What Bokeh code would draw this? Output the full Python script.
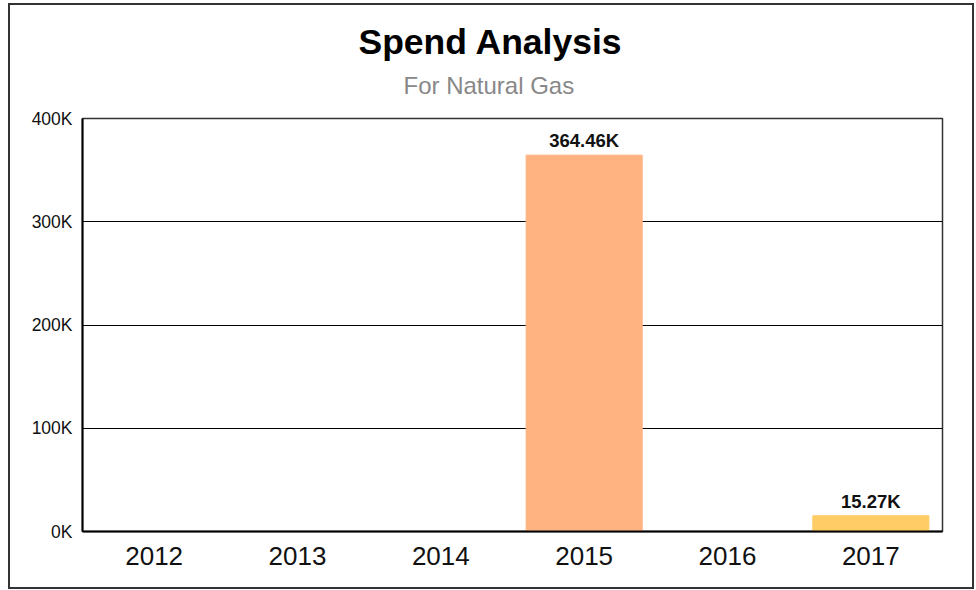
from bokeh.plotting import figure
from bokeh.models import ColumnDataSource, FactorRange, Range1d, FixedTicker, LabelSet, Title
from bokeh.core.properties import value
from bokeh.embed import file_html
from bokeh.resources import INLINE

years = ["2012", "2013", "2014", "2015", "2016", "2017"]
spend = [0, 0, 0, 364460, 0, 15270]
bar_colors = ["#FFB380", "#FFB380", "#FFB380", "#FFB380", "#FFCC66", "#FFCC66"]
bar_labels = ["", "", "", "364.46K", "", "15.27K"]
y_ticks = [0, 100000, 200000, 300000, 400000]
y_tick_labels = ["0K", "100K", "200K", "300K", "400K"]
title_text = "Spend Analysis"
subtitle_text = "For Natural Gas"

FONT = "Liberation Sans"

source = ColumnDataSource(dict(year=years, spend=spend, color=bar_colors, label=bar_labels))

p = figure(
    x_range=FactorRange(*years), y_range=Range1d(0, 400000),
    width=962, height=582, output_backend="svg", toolbar_location=None,
    min_border_left=72, min_border_right=30, min_border_top=113, min_border_bottom=56,
)
p.margin = (5, 0, 0, 10)
p.styles = {"outline": "2px solid #333333", "outline-offset": "0px"}

p.vbar(x="year", top="spend", width=0.81, color="color", source=source)

labels = LabelSet(x="year", y="spend", text="label", source=source,
                  text_align="center", text_baseline="bottom", y_offset=4,
                  text_font=value(FONT), text_font_size=value("18.5px"),
                  text_font_style=value("bold"), text_color=value("#111111"))
p.add_layout(labels)

spacer = Title(text=" ", align="center", text_font=FONT, text_font_size="9px", standoff=2)
sub = Title(text=subtitle_text, align="left", offset=321, text_font=FONT,
            text_font_size="24px", text_font_style="normal", text_color="#888888", standoff=12)
main = Title(text=title_text, align="left", offset=276, text_font=FONT,
             text_font_size="35.5px", text_font_style="bold", text_color="#000000", standoff=4)
p.add_layout(spacer, "above")
p.add_layout(sub, "above")
p.add_layout(main, "above")

p.yaxis.ticker = FixedTicker(ticks=y_ticks)
p.yaxis.major_label_overrides = {t: l for t, l in zip(y_ticks, y_tick_labels)}
p.yaxis.major_label_text_font = FONT
p.yaxis.major_label_text_font_size = "17.5px"
p.yaxis.major_label_text_color = "#111111"
p.yaxis.major_label_standoff = 10
p.yaxis.axis_line_width = 2
p.yaxis.axis_line_color = "#000000"

p.xaxis.major_label_text_font = FONT
p.xaxis.major_label_text_font_size = "26px"
p.xaxis.major_label_text_color = "#111111"
p.xaxis.major_label_standoff = 15
p.xaxis.axis_line_width = 2
p.xaxis.axis_line_color = "#000000"

for ax in (p.xaxis, p.yaxis):
    ax.major_tick_line_color = None
    ax.minor_tick_line_color = None
    ax.major_tick_out = 0
    ax.major_tick_in = 0

p.xgrid.grid_line_color = None
p.ygrid.ticker = FixedTicker(ticks=y_ticks)
p.ygrid.grid_line_color = "#000000"
p.ygrid.grid_line_width = 1

p.outline_line_color = "#333333"
p.outline_line_width = 1.5
p.x_range.range_padding = 0

open("out.html", "w").write(file_html(p, INLINE))
